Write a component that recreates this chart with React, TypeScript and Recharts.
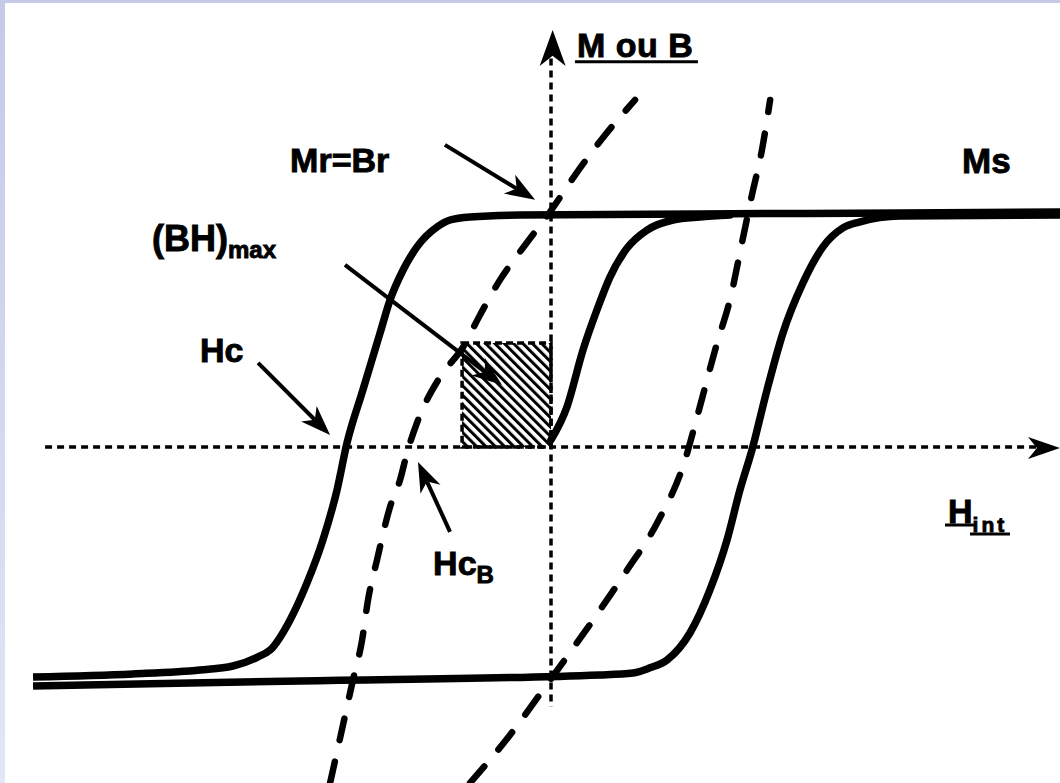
import {
  LineChart,
  Line,
  XAxis,
  YAxis,
  ReferenceLine,
  ReferenceArea,
  ReferenceDot,
} from 'recharts';

// Reduced units: h = H / |Hc|, m = M / Ms (B curves drawn on the same scale)
const H_DOMAIN: [number, number] = [-2.701, 2.495];
const M_DOMAIN: [number, number] = [-1.436, 1.91];

// Upper branch of the M(H) loop, coming down from +Ms through -Hc
const descendingBranch = [
  { h: -2.539, m: -0.983 },
  { h: -2.049, m: -0.97 },
  { h: -1.721, m: -0.953 },
  { h: -1.559, m: -0.936 },
  { h: -1.436, m: -0.897 },
  { h: -1.377, m: -0.868 },
  { h: -1.279, m: -0.739 },
  { h: -1.196, m: -0.581 },
  { h: -1.118, m: -0.397 },
  { h: -1.049, m: -0.184 },
  { h: -1.0, m: 0.017 },
  { h: -0.922, m: 0.244 },
  { h: -0.838, m: 0.487 },
  { h: -0.789, m: 0.628 },
  { h: -0.725, m: 0.756 },
  { h: -0.657, m: 0.855 },
  { h: -0.559, m: 0.94 },
  { h: -0.495, m: 0.97 },
  { h: -0.397, m: 0.983 },
  { h: -0.152, m: 0.991 },
  { h: 0.73, m: 0.996 },
  { h: 1.711, m: 1.0 },
  { h: 2.495, m: 1.004 },
];

// Lower branch, going up from -Ms through +Hc
const ascendingBranch = [
  { h: -2.539, m: -1.021 },
  { h: -1.23, m: -1.0 },
  { h: 0.24, m: -0.974 },
  { h: 0.402, m: -0.966 },
  { h: 0.485, m: -0.944 },
  { h: 0.569, m: -0.91 },
  { h: 0.681, m: -0.795 },
  { h: 0.779, m: -0.611 },
  { h: 0.863, m: -0.397 },
  { h: 0.926, m: -0.184 },
  { h: 0.985, m: -0.013 },
  { h: 1.059, m: 0.244 },
  { h: 1.137, m: 0.487 },
  { h: 1.235, m: 0.701 },
  { h: 1.333, m: 0.855 },
  { h: 1.431, m: 0.936 },
  { h: 1.515, m: 0.962 },
  { h: 1.711, m: 0.987 },
  { h: 2.495, m: 0.991 },
];

// Branch starting at the origin and joining saturation
const originBranch = [
  { h: 0.0, m: 0.03 },
  { h: 0.078, m: 0.171 },
  { h: 0.157, m: 0.415 },
  { h: 0.225, m: 0.585 },
  { h: 0.289, m: 0.726 },
  { h: 0.373, m: 0.85 },
  { h: 0.471, m: 0.927 },
  { h: 0.598, m: 0.97 },
  { h: 0.73, m: 0.983 },
  { h: 0.877, m: 0.991 },
];

// B(H) curves, dashed
const inductionLeft = [
  { h: -1.083, m: -1.436 },
  { h: -1.025, m: -1.209 },
  { h: -0.971, m: -0.996 },
  { h: -0.926, m: -0.825 },
  { h: -0.897, m: -0.654 },
  { h: -0.853, m: -0.483 },
  { h: -0.789, m: -0.256 },
  { h: -0.74, m: -0.141 },
  { h: -0.706, m: -0.026 },
  { h: -0.657, m: 0.103 },
  { h: -0.544, m: 0.299 },
  { h: -0.431, m: 0.427 },
  { h: -0.348, m: 0.564 },
  { h: -0.25, m: 0.714 },
  { h: -0.127, m: 0.863 },
  { h: -0.005, m: 1.004 },
  { h: 0.118, m: 1.162 },
  { h: 0.265, m: 1.333 },
  { h: 0.412, m: 1.483 },
];

const inductionRight = [
  { h: -0.397, m: -1.436 },
  { h: -0.201, m: -1.231 },
  { h: -0.015, m: -1.009 },
  { h: 0.24, m: -0.697 },
  { h: 0.373, m: -0.526 },
  { h: 0.52, m: -0.325 },
  { h: 0.657, m: -0.056 },
  { h: 0.716, m: 0.128 },
  { h: 0.814, m: 0.444 },
  { h: 0.877, m: 0.628 },
  { h: 0.936, m: 0.872 },
  { h: 0.985, m: 1.077 },
  { h: 1.034, m: 1.269 },
  { h: 1.074, m: 1.483 },
];

// (BH)max rectangle corner on the B curve
const bhMaxCorner = { h: -0.436, m: 0.444 };

const FONT = '"Liberation Sans", Arial, Helvetica, sans-serif';

// straight shaft + notched filled head, endpoints come from the chart scales
const arrowShape = (head = 30, half = 11, width = 4, shaft = true) => (props: any) => {
  const { x1, y1, x2, y2 } = props;
  const dx = x2 - x1;
  const dy = y2 - y1;
  const len = Math.hypot(dx, dy) || 1;
  const ux = dx / len;
  const uy = dy / len;
  const nx = -uy;
  const ny = ux;
  const bx = x2 - ux * head;
  const by = y2 - uy * head;
  const kx = x2 - ux * head * 0.72;
  const ky = y2 - uy * head * 0.72;
  return (
    <g>
      {shaft && (
        <line x1={x1} y1={y1} x2={kx} y2={ky} stroke="#000" strokeWidth={width} />
      )}
      <polygon
        points={`${x2},${y2} ${bx + nx * half},${by + ny * half} ${kx},${ky} ${bx - nx * half},${by - ny * half}`}
        fill="#000"
      />
    </g>
  );
};

// heavy bold lettering, slightly stroked
const textStyle = {
  fontFamily: FONT,
  fontWeight: 700,
  fill: '#000',
  stroke: '#000',
  strokeWidth: 0.9,
} as const;

const labelShape = (render: (x: number, y: number) => any) => (props: any) =>
  render(props.cx, props.cy);

export default function App() {
  return (
    <div
      style={{
        position: 'absolute',
        left: 0,
        top: 0,
        width: 1060,
        height: 783,
        overflow: 'hidden',
        background: 'linear-gradient(180deg, #c4cae8 0%, #d2d9f0 55%, #e0e7f6 100%)',
      }}
    >
      <div style={{ position: 'absolute', left: 5, top: 3, right: 0, bottom: 0, background: '#fff' }} />
      <svg width={0} height={0} style={{ position: 'absolute' }}>
        <defs>
          <pattern
            id="bhHatch"
            width={6.6}
            height={6.6}
            patternUnits="userSpaceOnUse"
            patternTransform="rotate(-45)"
          >
            <rect x={0} y={0} width={3} height={6.6} fill="#000" />
          </pattern>
        </defs>
      </svg>
      <div style={{ position: 'absolute', left: 0, top: 0 }}>
        <LineChart width={1060} height={783} margin={{ top: 0, right: 0, bottom: 0, left: 0 }}>
          <XAxis type="number" dataKey="h" domain={H_DOMAIN} allowDataOverflow hide />
          <YAxis type="number" dataKey="m" domain={M_DOMAIN} allowDataOverflow hide />

          {/* dotted H and M axes */}
          <ReferenceLine
            segment={[{ x: -2.48, y: 0 }, { x: 2.38, y: 0 }]}
            stroke="#000"
            strokeWidth={3.5}
            strokeDasharray="7 5"
            ifOverflow="visible"
          />
          <ReferenceLine
            segment={[{ x: 0, y: 1.66 }, { x: 0, y: -1.11 }]}
            stroke="#000"
            strokeWidth={3.5}
            strokeDasharray="7 5"
            ifOverflow="visible"
          />
          <ReferenceLine
            segment={[{ x: 2.3, y: -0.004 }, { x: 2.495, y: -0.004 }]}
            ifOverflow="visible"
            shape={arrowShape(32, 11, 0, false)}
          />
          <ReferenceLine
            segment={[{ x: 0.008, y: 1.55 }, { x: 0.008, y: 1.782 }]}
            ifOverflow="visible"
            shape={arrowShape(36, 13, 0, false)}
          />

          {/* (BH)max rectangle */}
          <ReferenceArea
            x1={bhMaxCorner.h}
            x2={0}
            y1={0}
            y2={bhMaxCorner.m}
            fill="url(#bhHatch)"
            fillOpacity={1}
            stroke="#000"
            strokeWidth={3.5}
            strokeDasharray="7 4"
            ifOverflow="visible"
          />

          <Line data={inductionLeft} dataKey="m" type="monotone" stroke="#000" strokeWidth={6.5}
            strokeDasharray="22 22" strokeLinecap="round" dot={false} activeDot={false} isAnimationActive={false} />
          <Line data={inductionRight} dataKey="m" type="monotone" stroke="#000" strokeWidth={6.5}
            strokeDasharray="22 22" strokeLinecap="round" dot={false} activeDot={false} isAnimationActive={false} />
          <Line data={descendingBranch} dataKey="m" type="monotone" stroke="#000" strokeWidth={7.5}
            dot={false} activeDot={false} isAnimationActive={false} />
          <Line data={ascendingBranch} dataKey="m" type="monotone" stroke="#000" strokeWidth={7.5}
            dot={false} activeDot={false} isAnimationActive={false} />
          <Line data={originBranch} dataKey="m" type="monotone" stroke="#000" strokeWidth={7.5}
            strokeLinecap="round" dot={false} activeDot={false} isAnimationActive={false} />

          {/* annotation arrows */}
          <ReferenceLine segment={[{ x: -0.52, y: 1.291 }, { x: -0.078, y: 1.056 }]}
            ifOverflow="visible" shape={arrowShape()} />
          <ReferenceLine segment={[{ x: -1.01, y: 0.778 }, { x: -0.24, y: 0.265 }]}
            ifOverflow="visible" shape={arrowShape()} />
          <ReferenceLine segment={[{ x: -1.436, y: 0.359 }, { x: -1.083, y: 0.051 }]}
            ifOverflow="visible" shape={arrowShape()} />
          <ReferenceLine segment={[{ x: -0.495, y: -0.363 }, { x: -0.652, y: -0.064 }]}
            ifOverflow="visible" shape={arrowShape()} />

          {/* labels */}
          <ReferenceDot x={0.127} y={1.667} r={0} ifOverflow="visible"
            shape={labelShape((x, y) => (
              <g>
                <text x={x} y={y} fontSize={34} letterSpacing={0.5} style={textStyle}>M ou B</text>
                <line x1={x - 2} y1={y + 5} x2={x + 121} y2={y + 5} stroke="#000" strokeWidth={3} />
              </g>
            ))} />
          <ReferenceDot x={-1.279} y={1.175} r={0} ifOverflow="visible"
            shape={labelShape((x, y) => (
              <text x={x} y={y} fontSize={34} style={textStyle}>Mr=Br</text>
            ))} />
          <ReferenceDot x={2.015} y={1.171} r={0} ifOverflow="visible"
            shape={labelShape((x, y) => (
              <text x={x} y={y} fontSize={35} style={textStyle}>Ms</text>
            ))} />
          <ReferenceDot x={-1.956} y={0.838} r={0} ifOverflow="visible"
            shape={labelShape((x, y) => (
              <text x={x} y={y} fontSize={36} style={textStyle}>
                (BH)<tspan fontSize={24} dy={7}>max</tspan>
              </text>
            ))} />
          <ReferenceDot x={-1.721} y={0.363} r={0} ifOverflow="visible"
            shape={labelShape((x, y) => (
              <text x={x} y={y} fontSize={34} style={textStyle}>Hc</text>
            ))} />
          <ReferenceDot x={-0.578} y={-0.547} r={0} ifOverflow="visible"
            shape={labelShape((x, y) => (
              <text x={x} y={y} fontSize={34} style={textStyle}>
                Hc<tspan fontSize={24} dy={8}>B</tspan>
              </text>
            ))} />
          <ReferenceDot x={1.946} y={-0.325} r={0} ifOverflow="visible"
            shape={labelShape((x, y) => (
              <g>
                <text x={x} y={y} fontSize={34} style={textStyle}>
                  H<tspan fontSize={21} dy={9} letterSpacing={3}>int</tspan>
                </text>
                <line x1={x - 3} y1={y + 2} x2={x + 27} y2={y + 2} stroke="#000" strokeWidth={3} />
                <line x1={x + 22} y1={y + 11} x2={x + 62} y2={y + 11} stroke="#000" strokeWidth={3} />
              </g>
            ))} />
        </LineChart>
      </div>
    </div>
  );
}
